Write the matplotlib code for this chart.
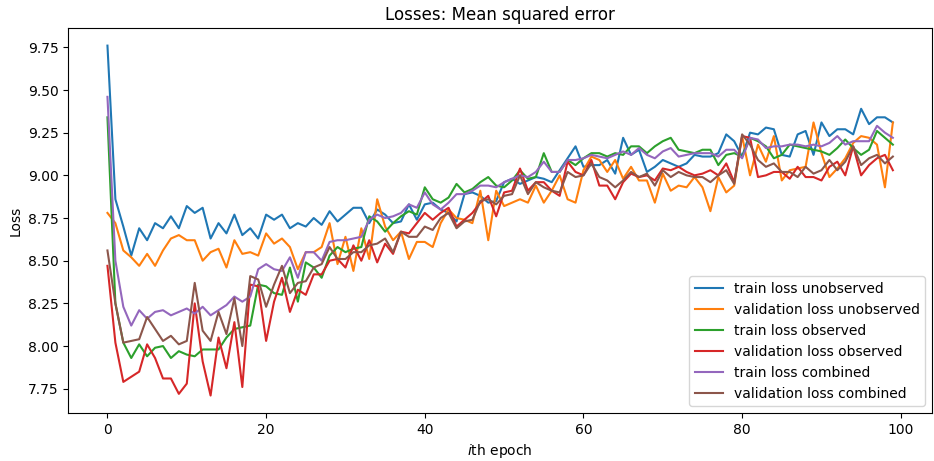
import matplotlib
matplotlib.use("Agg")
import matplotlib.pyplot as plt
from matplotlib.ticker import MultipleLocator, FormatStrFormatter

# valores (100 epocas)
train_unobs = [9.76, 8.86, 8.70, 8.53, 8.69, 8.62, 8.72, 8.69, 8.76, 8.69,
               8.82, 8.78, 8.81, 8.63, 8.72, 8.66, 8.77, 8.65, 8.69, 8.63,
               8.77, 8.74, 8.77, 8.69, 8.72, 8.70, 8.75, 8.71, 8.79, 8.73,
               8.77, 8.81, 8.81, 8.72, 8.80, 8.77, 8.72, 8.73, 8.83, 8.74,
               8.83, 8.84, 8.80, 8.78, 8.73, 8.89, 8.90, 8.88, 8.84, 8.85,
               8.96, 8.98, 8.95, 8.97, 8.99, 8.98, 8.96, 9.03, 9.10, 9.17,
               9.05, 9.06, 9.06, 9.09, 9.01, 9.22, 9.12, 9.15, 9.02, 9.05,
               9.09, 9.07, 9.05, 9.07, 9.12, 9.11, 9.11, 9.13, 9.24, 9.20,
               9.11, 9.25, 9.24, 9.28, 9.27, 9.12, 9.11, 9.24, 9.26, 9.12,
               9.31, 9.23, 9.27, 9.27, 9.24, 9.39, 9.30, 9.34, 9.34, 9.31]

val_unobs = [8.78, 8.72, 8.56, 8.52, 8.47, 8.54, 8.47, 8.56, 8.63, 8.65,
             8.62, 8.62, 8.50, 8.55, 8.57, 8.46, 8.62, 8.54, 8.55, 8.53,
             8.66, 8.60, 8.63, 8.58, 8.45, 8.55, 8.55, 8.58, 8.72, 8.48,
             8.64, 8.44, 8.69, 8.51, 8.86, 8.70, 8.62, 8.67, 8.51, 8.61,
             8.61, 8.58, 8.72, 8.80, 8.75, 8.74, 8.72, 8.91, 8.62, 8.91,
             8.82, 8.84, 8.86, 8.84, 8.94, 8.84, 8.91, 9.00, 8.86, 8.84,
             9.03, 9.11, 9.09, 9.02, 9.09, 8.98, 9.05, 8.97, 8.97, 8.84,
             9.01, 8.91, 8.94, 8.93, 8.99, 8.93, 8.79, 8.99, 8.90, 8.94,
             9.23, 9.00, 9.18, 9.08, 9.23, 8.97, 9.03, 9.04, 9.05, 9.31,
             9.13, 8.99, 9.04, 9.10, 9.19, 9.23, 9.22, 9.18, 8.93, 9.31]

train_obs = [9.34, 8.25, 8.02, 7.93, 8.01, 7.94, 7.99, 8.00, 7.93, 7.97,
             7.95, 7.94, 7.98, 7.98, 7.98, 8.05, 8.10, 8.11, 8.12, 8.36,
             8.35, 8.31, 8.30, 8.46, 8.26, 8.49, 8.46, 8.40, 8.53, 8.58,
             8.55, 8.57, 8.58, 8.76, 8.73, 8.67, 8.72, 8.76, 8.79, 8.77,
             8.93, 8.86, 8.84, 8.87, 8.95, 8.90, 8.92, 8.96, 8.99, 8.94,
             8.93, 8.97, 9.03, 8.98, 8.99, 9.13, 9.02, 9.02, 9.09, 9.06,
             9.10, 9.13, 9.13, 9.11, 9.13, 9.12, 9.17, 9.17, 9.13, 9.17,
             9.20, 9.22, 9.15, 9.14, 9.13, 9.15, 9.15, 9.06, 9.12, 9.13,
             9.11, 9.22, 9.20, 9.17, 9.10, 9.12, 9.18, 9.17, 9.16, 9.15,
             9.14, 9.12, 9.16, 9.21, 9.16, 9.12, 9.15, 9.26, 9.22, 9.18]

val_obs = [8.47, 8.02, 7.79, 7.82, 7.85, 8.01, 7.93, 7.81, 7.81, 7.72,
           7.78, 8.25, 7.91, 7.71, 8.05, 7.87, 8.14, 7.76, 8.36, 8.35,
           8.03, 8.26, 8.40, 8.20, 8.33, 8.30, 8.42, 8.42, 8.50, 8.51,
           8.46, 8.59, 8.50, 8.62, 8.49, 8.60, 8.54, 8.67, 8.66, 8.72,
           8.78, 8.74, 8.78, 8.81, 8.70, 8.74, 8.78, 8.84, 8.88, 8.76,
           8.90, 8.91, 9.04, 8.91, 8.96, 8.96, 8.91, 8.88, 9.08, 9.02,
           9.00, 9.09, 8.94, 8.94, 8.86, 8.96, 9.01, 8.99, 9.00, 8.97,
           9.04, 9.03, 9.05, 9.02, 9.00, 9.01, 9.03, 9.00, 9.07, 8.96,
           9.23, 9.22, 8.99, 9.00, 9.02, 9.02, 8.98, 9.05, 8.99, 8.99,
           8.97, 9.05, 9.08, 9.00, 9.17, 9.00, 9.06, 9.10, 9.12, 9.03]

train_comb = [9.46, 8.50, 8.23, 8.12, 8.21, 8.16, 8.20, 8.21, 8.18, 8.20,
              8.22, 8.19, 8.23, 8.18, 8.21, 8.24, 8.29, 8.26, 8.29, 8.45,
              8.48, 8.45, 8.44, 8.52, 8.40, 8.55, 8.55, 8.50, 8.61, 8.62,
              8.62, 8.63, 8.64, 8.74, 8.77, 8.75, 8.76, 8.78, 8.83, 8.81,
              8.90, 8.83, 8.80, 8.84, 8.89, 8.89, 8.91, 8.94, 8.94, 8.93,
              8.96, 8.98, 9.00, 8.99, 9.02, 9.08, 9.02, 9.02, 9.09, 9.09,
              9.10, 9.12, 9.11, 9.10, 9.12, 9.14, 9.12, 9.16, 9.12, 9.10,
              9.14, 9.16, 9.11, 9.12, 9.13, 9.13, 9.13, 9.11, 9.15, 9.15,
              9.10, 9.22, 9.21, 9.16, 9.17, 9.17, 9.18, 9.18, 9.17, 9.18,
              9.17, 9.19, 9.23, 9.18, 9.20, 9.20, 9.20, 9.29, 9.25, 9.22]

val_comb = [8.56, 8.25, 8.02, 8.03, 8.04, 8.17, 8.10, 8.03, 8.06, 8.01,
            8.03, 8.37, 8.09, 8.03, 8.20, 8.07, 8.28, 8.00, 8.41, 8.39,
            8.23, 8.36, 8.47, 8.31, 8.37, 8.38, 8.46, 8.48, 8.58, 8.51,
            8.51, 8.55, 8.55, 8.59, 8.60, 8.63, 8.55, 8.67, 8.64, 8.64,
            8.70, 8.68, 8.75, 8.78, 8.69, 8.73, 8.74, 8.85, 8.86, 8.83,
            8.88, 8.89, 9.00, 8.89, 8.96, 8.93, 8.91, 8.90, 9.02, 8.99,
            9.00, 9.07, 8.99, 8.97, 8.93, 8.97, 9.02, 8.99, 9.01, 8.94,
            9.03, 8.99, 9.02, 9.00, 8.99, 8.99, 8.96, 9.00, 9.03, 8.95,
            9.24, 9.18, 9.09, 9.05, 9.07, 9.02, 9.02, 8.99, 9.05, 9.01,
            9.03, 9.09, 9.03, 9.08, 9.17, 9.06, 9.10, 9.12, 9.07, 9.11]

labels = ['train loss unobserved', 'validation loss unobserved',
          'train loss observed', 'validation loss observed',
          'train loss combined', 'validation loss combined']

#graficamos las perdidas
fig = plt.figure(figsize=(9.34, 4.61), dpi=100)
series = [train_unobs, val_unobs, train_obs, val_obs, train_comb, val_comb]
for s, lab in zip(series, labels):
    plt.plot(range(len(s)), s, label=lab)
plt.title('Losses: Mean squared error')
plt.xlabel('$i$th epoch')
plt.ylabel('Loss')
ax = plt.gca()
ax.yaxis.set_major_locator(MultipleLocator(0.25))
ax.yaxis.set_major_formatter(FormatStrFormatter('%.2f'))
plt.legend(loc='lower right')
plt.subplots_adjust(left=0.073, right=0.998, top=0.939, bottom=0.104)
plt.savefig("out.png", dpi=100)
